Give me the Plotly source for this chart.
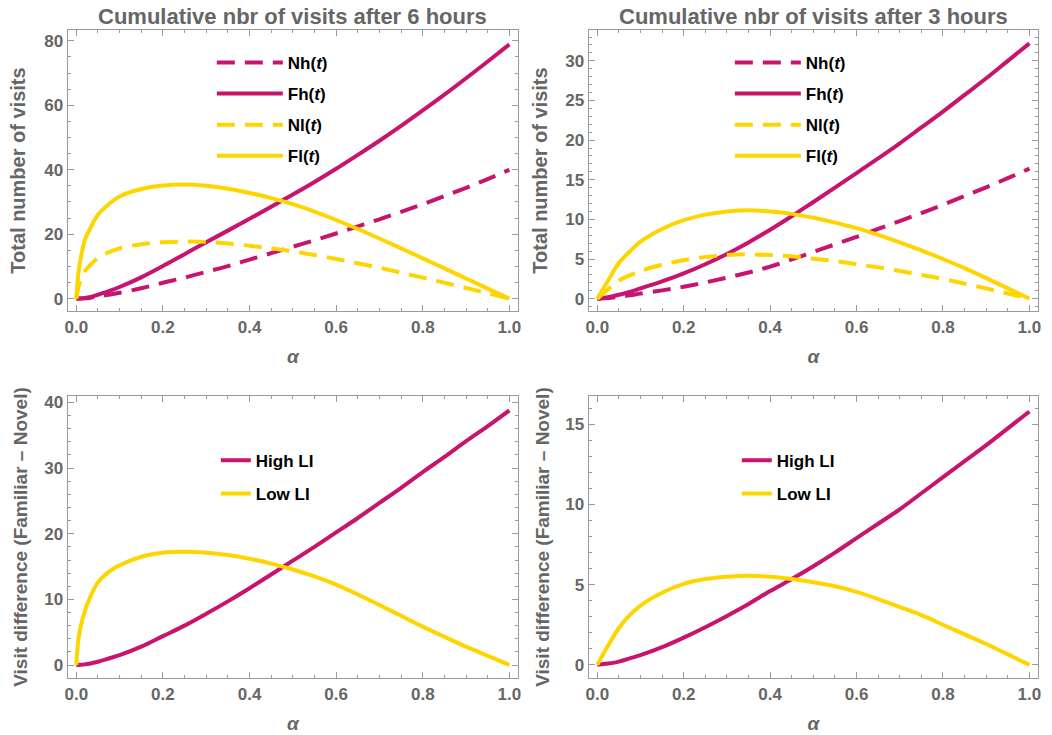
import plotly.graph_objects as go

# ---------------- data ----------------
alpha6 = [0, 0.005, 0.01, 0.02, 0.03, 0.05, 0.075, 0.1, 0.15, 0.2, 0.25, 0.3,
          0.35, 0.4, 0.45, 0.5, 0.55, 0.6, 0.65, 0.7, 0.75, 0.8, 0.85, 0.9, 0.95, 1.0]
Nh6 = [0, 0.01, 0.03, 0.1, 0.2, 0.7, 1.2, 1.8, 3.2, 4.9, 6.5, 8.3, 10.1, 12.1,
       14.1, 16.1, 18.1, 20.2, 22.4, 24.6, 26.9, 29.3, 31.8, 34.4, 37.1, 40.0]
Fh6 = [0, 0.02, 0.05, 0.2, 0.4, 1.2, 2.3, 3.6, 6.6, 10.1, 13.8, 17.5, 21.1, 24.75,
       28.5, 32.3, 36.2, 40.3, 44.6, 49.0, 53.6, 58.4, 63.3, 68.4, 73.6, 78.9]
Nl6 = [0, 3.5, 5.8, 8.5, 10.1, 12.6, 14.4, 15.6, 16.9, 17.5, 17.7, 17.6, 17.1,
       16.4, 15.6, 14.65, 13.55, 12.3, 10.95, 9.55, 8.05, 6.5, 4.9, 3.3, 1.65, 0]
Fl6 = [0, 8.0, 12.3, 18.3, 21.2, 26.0, 29.3, 31.7, 34.0, 35.1, 35.4, 35.0, 34.1,
       32.8, 31.2, 29.3, 27.0, 24.4, 21.6, 18.65, 15.6, 12.5, 9.4, 6.25, 3.1, 0]
High6 = [0, 0.01, 0.03, 0.1, 0.2, 0.5, 1.0, 1.5, 2.8, 4.4, 6.0, 7.8, 9.7, 11.7,
         13.8, 15.9, 18.0, 20.2, 22.4, 24.7, 27.0, 29.4, 31.7, 34.1, 36.4, 38.8]
Low6 = [0, 4.0, 5.8, 8.3, 10.0, 12.6, 14.2, 15.2, 16.5, 17.1, 17.25, 17.1, 16.75,
        16.2, 15.45, 14.55, 13.5, 12.25, 10.75, 9.15, 7.5, 5.85, 4.3, 2.8, 1.4, 0]

alpha3 = [0, 0.025, 0.05, 0.075, 0.1, 0.15, 0.2, 0.25, 0.3, 0.35, 0.4, 0.45, 0.5,
          0.55, 0.6, 0.65, 0.7, 0.75, 0.8, 0.85, 0.9, 0.95, 1.0]
Nh3 = [0, 0.1, 0.25, 0.42, 0.65, 1.05, 1.5, 2.05, 2.65, 3.3, 4.05, 4.95, 5.9,
       6.85, 7.8, 8.8, 9.8, 10.8, 11.85, 12.95, 14.05, 15.2, 16.4]
Fh3 = [0, 0.2, 0.5, 0.85, 1.3, 2.2, 3.2, 4.35, 5.65, 7.1, 8.7, 10.4, 12.2,
       14.0, 15.85, 17.7, 19.6, 21.6, 23.6, 25.7, 27.8, 30.0, 32.2]
Nl3 = [0, 1.2, 2.3, 2.95, 3.5, 4.3, 4.85, 5.25, 5.5, 5.6, 5.5, 5.35, 5.05,
       4.75, 4.35, 3.95, 3.5, 3.0, 2.5, 1.9, 1.3, 0.65, 0]
Fl3 = [0, 2.3, 4.5, 5.95, 7.2, 8.8, 9.9, 10.6, 11.0, 11.15, 11.0, 10.7, 10.2,
       9.6, 8.9, 8.05, 7.1, 6.1, 5.0, 3.85, 2.6, 1.3, 0]
High3 = [0, 0.08, 0.2, 0.4, 0.6, 1.1, 1.7, 2.35, 3.05, 3.8, 4.6, 5.35, 6.15,
         7.0, 7.9, 8.8, 9.7, 10.7, 11.7, 12.7, 13.7, 14.75, 15.8]
Low3 = [0, 1.2, 2.3, 3.1, 3.7, 4.5, 5.05, 5.35, 5.5, 5.55, 5.5, 5.35, 5.15,
        4.9, 4.55, 4.1, 3.6, 3.1, 2.5, 1.9, 1.3, 0.65, 0]

top_names = ["<b>Nh(<i>t</i>)</b>", "<b>Fh(<i>t</i>)</b>",
             "<b>Nl(<i>t</i>)</b>", "<b>Fl(<i>t</i>)</b>"]
bottom_names = ["<b>High LI</b>", "<b>Low LI</b>"]
titles = ["Cumulative nbr of visits after 6 hours",
          "Cumulative nbr of visits after 3 hours"]
ytitle_top = "Total number of visits"
ytitle_bottom = "Visit difference (Familiar \u2013 Novel)"

# ---------------- styling ----------------
MAG = "#C8146E"
YEL = "#FFD500"
GRAY = "#666666"
FRAME = "#9a9a9a"
FONT = "Liberation Sans, Arial, sans-serif"
W, H = 1052, 735
DASH = "18px,10px"
LW = 4

fig = go.Figure()

def add(x, y, color, dash, name, ax, leg, grp):
    fig.add_trace(go.Scatter(
        x=x, y=y, mode="lines", name=name,
        line=dict(color=color, width=LW, dash=dash, shape="spline", smoothing=1.0),
        xaxis="x" + ax, yaxis="y" + ax, legend=leg, legendgroup=grp,
        hoverinfo="skip"))

add(alpha6, Nh6, MAG, DASH, top_names[0], "", "legend", "a1")
add(alpha6, Fh6, MAG, "solid", top_names[1], "", "legend", "a2")
add(alpha6, Nl6, YEL, DASH, top_names[2], "", "legend", "a3")
add(alpha6, Fl6, YEL, "solid", top_names[3], "", "legend", "a4")

add(alpha3, Nh3, MAG, DASH, top_names[0], "2", "legend2", "b1")
add(alpha3, Fh3, MAG, "solid", top_names[1], "2", "legend2", "b2")
add(alpha3, Nl3, YEL, DASH, top_names[2], "2", "legend2", "b3")
add(alpha3, Fl3, YEL, "solid", top_names[3], "2", "legend2", "b4")

add(alpha6, High6, MAG, "solid", bottom_names[0], "3", "legend3", "c1")
add(alpha6, Low6, YEL, "solid", bottom_names[1], "3", "legend3", "c2")

add(alpha3, High3, MAG, "solid", bottom_names[0], "4", "legend4", "d1")
add(alpha3, Low3, YEL, "solid", bottom_names[1], "4", "legend4", "d2")

# panel geometry in pixels (left, right, top, bottom)
panels = {
    "": (65, 518, 28, 310),
    "2": (589, 1041, 28, 310),
    "3": (65, 518, 395, 678),
    "4": (589, 1041, 395, 678),
}
yranges = {"": [-3.9, 83.4], "2": [-1.57, 33.9], "3": [-2.0, 41.0], "4": [-0.83, 16.77]}
ydtick = {"": 20, "2": 5, "3": 10, "4": 5}
yminor = {"": 5, "2": 1, "3": 2, "4": 1}
ytitles = {"": ytitle_top, "2": ytitle_top, "3": ytitle_bottom, "4": ytitle_bottom}
ytsize = {"": 20, "2": 20, "3": 19, "4": 19}
ytstand = {"": 13, "2": 12, "3": 11, "4": 10}

tickfont = dict(family=FONT, size=17, color=GRAY, weight="bold")
layout = {}
for k, (l, r, t, b) in panels.items():
    common = dict(
        showline=True, linecolor=FRAME, linewidth=1, mirror="ticks",
        ticks="inside", ticklen=6, tickwidth=1, tickcolor=FRAME,
        showgrid=False, zeroline=False, tickfont=tickfont,
    )
    layout["xaxis" + k] = dict(
        common, domain=[l / W, r / W], range=[-0.02, 1.02],
        anchor="y" + k, dtick=0.2, tick0=0, tickformat=".1f",
        minor=dict(ticks="inside", ticklen=3, dtick=0.05, tickcolor=FRAME, showgrid=False),
        title=dict(text="\u03b1", font=dict(family=FONT, size=19, color=GRAY,
                                           style="italic", weight="bold"), standoff=14),
    )
    layout["yaxis" + k] = dict(
        common, domain=[1 - b / H, 1 - t / H], range=yranges[k],
        anchor="x" + k, dtick=ydtick[k], tick0=0,
        minor=dict(ticks="inside", ticklen=3, dtick=yminor[k], tickcolor=FRAME, showgrid=False),
        title=dict(text=ytitles[k], font=dict(family=FONT, size=ytsize[k], color=GRAY,
                                              weight="bold"), standoff=ytstand[k]),
    )

legfont = dict(family=FONT, size=17, color="black")
def legend(xpx, ypx, iw, gap):
    return dict(x=xpx / W, y=1 - ypx / H, xanchor="left", yanchor="top",
                bgcolor="rgba(0,0,0,0)", font=legfont, tracegroupgap=gap,
                itemwidth=iw, traceorder="grouped")

fig.update_layout(
    width=W, height=H, autosize=False,
    margin=dict(l=0, r=0, t=0, b=0),
    paper_bgcolor="white", plot_bgcolor="white",
    showlegend=True,
    legend=legend(210, 43, 66, 6),
    legend2=legend(731, 43, 66, 6),
    legend3=legend(214, 442, 30, 8),
    legend4=legend(738, 442, 30, 8),
    **layout,
)

for i, k in enumerate(["", "2"]):
    l, r, t, b = panels[k]
    fig.add_annotation(
        text="<b>" + titles[i] + "</b>", xref="paper", yref="paper",
        x=(l + r) / 2 / W, y=1 - 15 / H, xanchor="center", yanchor="middle",
        showarrow=False, font=dict(family=FONT, size=22, color=GRAY))

fig.write_html("out.html")
